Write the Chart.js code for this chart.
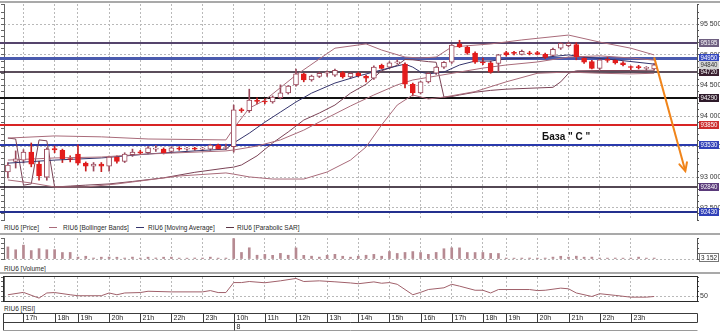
<!DOCTYPE html>
<html>
<head>
<meta charset="utf-8">
<script src="https://cdn.jsdelivr.net/npm/chart.js@4.4.1/dist/chart.umd.min.js"></script>
<style>
  html, body { margin:0; padding:0; background:#fff; }
  body { width:720px; height:332px; position:relative; overflow:hidden; font-family:"Liberation Sans", Arial, sans-serif; }
  .box { position:absolute; left:0; width:720px; }
  .t { position:absolute; font-size:6.5px; line-height:9px; color:#2a2a2a; white-space:nowrap; }
  .sw { position:absolute; height:1px; width:8px; }
  .sep { position:absolute; left:0; width:720px; background:#a9a9a9; }
</style>
</head>
<body>
<div class="sep" style="top:1px;height:2px"></div>
<div class="box" style="top:0;height:222px"><canvas id="cMain"></canvas></div>
<div class="t" style="left:4px;top:223px">RIU6 [Price]</div>
<div class="sw" style="left:49px;top:227px;background:#a96b7a"></div>
<div class="t" style="left:63px;top:223px">RIU6 [Bollinger Bands]</div>
<div class="sw" style="left:136px;top:227px;background:#34346c"></div>
<div class="t" style="left:148px;top:223px">RIU6 [Moving Average]</div>
<div class="sw" style="left:226px;top:227px;background:#5a3444"></div>
<div class="t" style="left:237px;top:223px">RIU6 [Parabolic SAR]</div>
<div class="sep" style="top:233px;height:2px"></div>
<div class="box" style="top:234px;height:30px"><canvas id="cVol"></canvas></div>
<div class="t" style="left:4px;top:264px">RIU6 [Volume]</div>
<div class="sep" style="top:272px;height:2px"></div>
<div class="box" style="top:274px;height:30px"><canvas id="cRsi"></canvas></div>
<div class="t" style="left:4px;top:304px">RIU6 [RSI]</div>
<div class="box" style="top:311px;height:21px"><canvas id="cTime"></canvas></div>
<div class="t" style="left:542px;top:131px;font-size:10px;line-height:12px;font-weight:bold;color:#111">База " C "</div>

<script>
// ---------------- data ----------------
const times = [
  "16:30","16:45","17:00","17:15","17:30","17:45","18:00","18:15","18:30",
  "19:00","19:15","19:30","19:45","20:00","20:15","20:30","20:45",
  "21:00","21:15","21:30","21:45","22:00","22:15","22:30","22:45",
  "23:00","23:15","23:30","23:45",
  "10:00","10:15","10:30","10:45","11:00","11:15","11:30","11:45",
  "12:00","12:15","12:30","12:45","13:00","13:15","13:30","13:45",
  "14:00","14:15","14:30","14:45","15:00","15:15","15:30","15:45",
  "16:00","16:15","16:30","16:45","17:00","17:15","17:30","17:45",
  "18:00","18:15","18:30",
  "19:00","19:15","19:30","19:45","20:00","20:15","20:30","20:45",
  "21:00","21:15","21:30","21:45","22:00","22:15","22:30","22:45",
  "23:00","23:15","23:30","23:45"
];
const dayStart = { time: "10:00", label: "8" };

const opens  = [93085,93260,93280,93410,93215,93000,93470,93440,93300,93380,93230,93180,93215,93180,93330,93260,93370,93415,93400,93460,93460,93420,93470,93460,93470,93460,93460,93525,93470,
                93500,94100,94090,94250,94240,94230,94300,94380,94510,94690,94590,94650,94700,94670,94710,94640,94700,94650,94620,94830,94800,94870,94850,94520,94380,94560,94700,94800,
                94880,95180,95130,95030,94880,94870,94860,95040,95030,95010,95030,95040,95010,94990,95110,95150,95170,94950,94890,94780,94920,94910,94870,94800,94810,94780,94770];
const highs  = [93240,93430,93450,93560,93260,93480,93510,93460,93350,93530,93250,93240,93240,93345,93350,93400,93460,93440,93500,93520,93480,93500,93500,93490,93490,93490,93540,93540,93540,
                94180,94130,94440,94300,94280,94330,94510,94500,94770,94700,94670,94720,94740,94770,94730,94710,94720,94670,94820,94850,94890,94920,94870,94540,94570,94710,94810,94890,
                95170,95240,95150,95050,94950,94900,95010,95060,95060,95080,95060,95060,95030,95110,95200,95210,95200,94970,94910,94930,94960,94930,94890,94820,94830,94810,94860];
const lows   = [92990,93150,93230,93170,92950,92950,93400,93240,93250,93200,93100,93100,93090,93100,93230,93240,93340,93370,93380,93420,93380,93400,93440,93440,93440,93430,93440,93450,93450,
                93410,94060,94060,94200,94200,94210,94280,94360,94490,94560,94570,94630,94650,94650,94620,94620,94640,94560,94600,94770,94780,94850,94460,94330,94360,94540,94680,94780,
                94860,95120,95010,94860,94840,94700,94720,94980,95000,95000,95000,95000,94940,94970,95090,95130,94920,94860,94770,94760,94880,94850,94820,94760,94770,94750,94750];
const closes = [93200,93300,93410,93215,93020,93460,93445,93300,93290,93230,93180,93215,93180,93330,93260,93380,93410,93395,93480,93465,93400,93480,93460,93470,93460,93470,93525,93460,93480,
                94100,94090,94260,94240,94230,94310,94380,94490,94690,94590,94655,94700,94705,94750,94640,94700,94660,94620,94800,94780,94870,94880,94520,94380,94560,94700,94800,94880,
                95160,95130,95030,94880,94870,94720,95000,95000,95025,95060,95020,95010,94960,95090,95190,95190,94970,94880,94780,94920,94910,94870,94840,94795,94790,94780,94840];

const volumes = [40300,30800,46200,28100,34500,30900,31200,21600,21900,6300,
                 9200,3300,6100,6400,5900,3200,6300,3000,6100,3400,
                 6000,6300,3100,2900,3300,3100,6200,3000,3200,68000,
                 21800,37400,12600,15300,12200,18700,12500,37000,12300,9400,
                 6300,12400,15600,9200,6100,9300,12500,15400,9300,24900,
                 18500,21800,24700,21600,15500,21900,34200,37300,37100,21700,
                 21600,21800,18700,18400,3200,2900,3100,3300,3000,3200,
                 6300,9100,6200,9400,6100,6300,3100,3000,3200,2900,
                 3100,6200,3000,3152];

// indicator readings: [candle index, value]
const bbUpper  = [[0,93640],[6,93675],[12,93660],[18,93625],[28,93610],[29,93800],[31,94130],[33,94260],[37,94670],[42,95110],[46,95180],[48,95080],[51,94965],[53,94950],[55,94965],[57,95130],[62,95180],[66,95245],[72,95325],[76,95210],[80,95110],[83,95000]];
const bbMiddle = [[0,93280],[6,93315],[12,93330],[18,93380],[28,93430],[29,93445],[32,93510],[35,93610],[38,93770],[41,93970],[44,94165],[47,94345],[50,94510],[52,94590],[55,94655],[58,94720],[61,94785],[64,94835],[68,94885],[72,94965],[76,94985],[80,94950],[83,94915]];
const bbLower  = [[0,92955],[3,92905],[6,92840],[10,92840],[14,92890],[18,92955],[22,93020],[28,93070],[29,93050],[31,93005],[34,92970],[38,92970],[41,93085],[44,93280],[46,93495],[48,93855],[50,94180],[52,94345],[54,94280],[56,94310],[60,94400],[64,94560],[68,94700],[72,94720],[76,94700],[80,94690],[83,94700]];
const maLine   = [[0,93230],[6,93280],[12,93315],[18,93380],[24,93430],[28,93460],[29,93560],[31,93720],[33,93900],[35,94065],[37,94230],[39,94375],[42,94540],[45,94655],[48,94755],[50,94820],[51,94850],[52,94800],[53,94720],[54,94690],[56,94720],[58,94835],[60,94900],[62,94900],[64,94935],[68,94950],[72,95000],[74,94965],[78,94920],[83,94850]];
const sarLine  = [[0,93640],[1,93625],[2,92870],[3,92890],[4,93610],[5,93595],[6,92840],[8,92855],[10,92870],[13,92890],[16,92930],[20,92990],[24,93080],[28,93150],[29,93165],[30,93200],[32,93350],[34,93560],[36,93740],[38,93935],[40,94050],[42,94180],[44,94375],[46,94520],[48,94740],[50,94830],[51,94925],[52,94920],[53,94905],[54,94890],[55,94880],[56,94310],[57,94320],[58,94345],[60,94390],[62,94420],[64,94440],[68,94460],[70,94470],[71,94560],[72,94700],[73,94740],[76,94745],[80,94745],[83,94750]];
const rsiLine  = [[0,53],[2,58],[4,46],[5,56.7],[6,57.6],[8,53],[9,51],[12,51],[13,56.7],[14,53],[15,56.7],[17,57.6],[18,60.3],[21,59],[25,59],[26,61.7],[27,57.6],[28,57.6],[29,78.4],[30,78.4],[31,80.6],[33,78],[35,82],[37,87],[38,80.6],[40,82],[42,80],[44,77.6],[45,76],[47,79.8],[48,77],[49,78.4],[50,74.8],[52,53],[53,58],[54,63.9],[56,67.5],[57,74.8],[58,71],[60,62.4],[61,62.4],[62,56.7],[63,63.9],[67,63.9],[68,61.7],[69,62.4],[71,66.8],[72,65.4],[73,56.7],[75,49.4],[76,55.2],[78,51.7],[80,48],[82,48],[83,49.4]];

const levels = [95195, 94950, 94720, 94290, 93850, 93530, 92840, 92430];
const arrowPath = [[83, 94960], [87, 93100]];

// ---------------- styles ----------------
const levelColor = ['#55446c','#4a5aae','#241224','#111111','#d82424','#2a3aac','#1a0a1a','#24308e'];
const levelWidth = [2, 3, 1.5, 2, 2, 2, 1.5, 2];
const tagBg      = ['#6e5f80','#3448c0','#3a2030','#2e1a2a','#cc2c2c','#3040b8','#5a3a7a','#3040b8'];
const FONT = '"Liberation Sans", Arial, sans-serif';
const GRID = '#b9b9b9';
const CLEAR = 'rgba(0,0,0,0)';
const BB_COL = '#a96b7a', MA_COL = '#34346c', SAR_COL = '#7b4356';
const UP_EDGE = '#9c4a5c', DOWN_COL = '#e41c1c';

const N = times.length + 5;
const labels = times.concat(new Array(5).fill(''));
const isHour = i => typeof labels[i] === 'string' && labels[i].endsWith(':00');
function series(points){ const a = new Array(N).fill(null); for (const [i,v] of points) a[i] = v; return a; }
const fmt = v => String(v).replace(/\B(?=(\d{3})+(?!\d))/g, ' ');
const isUp = i => closes[i] >= opens[i];

function xAxis(){
  return { offset:true, ticks:{display:false, autoSkip:false},
    grid:{offset:false, drawTicks:false, lineWidth:1, color:c => isHour(c.index) ? GRID : CLEAR, borderDash:[2,2]},
    border:{display:false, dash:[2,2]} };
}
function leftAxis(min, max, step){
  return { position:'left', min, max,
    afterFit(s){ s.width = 4; s.paddingTop = 0; s.paddingBottom = 0; },
    ticks:{stepSize:step, autoSkip:false, callback:() => '', font:{size:7}},
    grid:{drawOnChartArea:false, tickLength:3, tickColor:'#666'},
    border:{display:true, color:'#666'} };
}
function rightAxis(min, max, step, labelFn, gridFn){
  return { position:'right', min, max,
    afterFit(s){ s.width = 23; s.paddingTop = 0; s.paddingBottom = 0; },
    ticks:{stepSize:step, autoSkip:false, padding:1, color:'#333', font:{size:7, family:FONT}, callback:labelFn},
    grid:{color:gridFn, tickLength:2, tickColor:'#555', drawTicks:true, borderDash:[2,2]},
    border:{display:true, color:'#555', dash:[2,2]} };
}
const base = () => ({ responsive:true, maintainAspectRatio:false, animation:false, events:[],
  plugins:{legend:{display:false}, tooltip:{enabled:false}} });

// ---------------- plugins ----------------
const levelPlugin = {
  id:'levelLines',
  beforeDatasetsDraw(chart){
    const {ctx, chartArea:a, scales:{y}} = chart;
    ctx.save();
    levels.forEach((v,k) => {
      let py = Math.round(y.getPixelForValue(v));
      if (levelWidth[k] % 2 === 1) py += 0.5;
      ctx.strokeStyle = levelColor[k]; ctx.lineWidth = levelWidth[k];
      ctx.beginPath(); ctx.moveTo(0, py); ctx.lineTo(a.right, py); ctx.stroke();
    });
    ctx.restore();
  },
  afterDraw(chart){
    const {ctx, chartArea:a, scales:{y}} = chart;
    ctx.save();
    ctx.font = '7px ' + FONT; ctx.textBaseline = 'middle'; ctx.textAlign = 'left';
    const tags = levels.map((v,k) => ({v, bg:tagBg[k], fg:'#ffffff'}));
    tags.push({v: closes[closes.length-1], bg:'#d6d6d6', fg:'#333333'});
    tags.forEach(t => {
      const py = Math.round(y.getPixelForValue(t.v));
      const x0 = a.right + 2;
      ctx.fillStyle = t.bg; ctx.fillRect(x0, py - 4, 20, 8);
      ctx.fillStyle = t.fg; ctx.fillText(String(t.v), x0 + 1.5, py + 0.5, 17);
    });
    ctx.restore();
  }
};
const arrowPlugin = {
  id:'arrowHead',
  afterDatasetsDraw(chart){
    const idx = chart.data.datasets.findIndex(d => d.label === 'arrow');
    if (idx < 0) return;
    const ds = chart.data.datasets[idx];
    const pts = chart.getDatasetMeta(idx).data.filter((p,i) => ds.data[i] !== null);
    if (pts.length < 2) return;
    const p1 = pts[pts.length-2], p2 = pts[pts.length-1];
    const ang = Math.atan2(p2.y - p1.y, p2.x - p1.x);
    const {ctx} = chart, len = 9;
    ctx.save(); ctx.strokeStyle = ds.borderColor; ctx.lineWidth = 2; ctx.lineCap = 'round';
    ctx.beginPath();
    ctx.moveTo(p2.x - len*Math.cos(ang - 0.45), p2.y - len*Math.sin(ang - 0.45));
    ctx.lineTo(p2.x, p2.y);
    ctx.lineTo(p2.x - len*Math.cos(ang + 0.45), p2.y - len*Math.sin(ang + 0.45));
    ctx.stroke(); ctx.restore();
  }
};
const volTag = {
  id:'volTag',
  afterDraw(chart){
    const {ctx, chartArea:a, scales:{y}} = chart;
    const v = volumes[volumes.length-1];
    const py = Math.round(y.getPixelForValue(v));
    ctx.save();
    ctx.fillStyle = '#fff'; ctx.fillRect(a.right + 2, py - 5, 20, 9);
    ctx.strokeStyle = '#777'; ctx.lineWidth = 1; ctx.strokeRect(a.right + 2.5, py - 4.5, 19, 8);
    ctx.fillStyle = '#222'; ctx.font = '7px ' + FONT; ctx.textBaseline = 'middle'; ctx.textAlign = 'left';
    ctx.fillText(fmt(v), a.right + 4, py, 16);
    ctx.restore();
  }
};
const frame = {
  id:'frame',
  afterDraw(chart){
    const {ctx, chartArea:a} = chart;
    ctx.save(); ctx.strokeStyle = '#2a2a2a'; ctx.lineWidth = 1;
    ctx.strokeRect(Math.round(a.left) - 0.5, Math.round(a.top) - 0.5, Math.round(a.right - a.left) + 1, Math.round(a.bottom - a.top) + 1);
    ctx.restore();
  }
};
const timeStrip = {
  id:'timeStrip',
  afterDraw(chart){
    const {ctx, chartArea:a, scales:{x}} = chart;
    const t0 = 2.5, t1 = 11.5, t2 = 19.5;
    const L = Math.round(a.left) - 0.5, R = Math.round(a.right) + 0.5;
    const ln = (x1,y1,x2,y2) => { ctx.beginPath(); ctx.moveTo(x1,y1); ctx.lineTo(x2,y2); ctx.stroke(); };
    ctx.save(); ctx.lineWidth = 1; ctx.strokeStyle = '#3c3c3c';
    ln(L,t0,R,t0); ln(L,t1,R,t1); ln(L,t0,L,t2); ln(R,t0,R,t1);
    ctx.strokeStyle = '#9a9a9a'; ln(L,t2,R,t2);
    ctx.strokeStyle = '#3c3c3c';
    ctx.fillStyle = '#1e1e1e'; ctx.font = '7px ' + FONT; ctx.textBaseline = 'middle'; ctx.textAlign = 'left';
    times.forEach((tm,i) => {
      const px = Math.round(x.getPixelForValue(i)) + 0.5;
      if (tm.endsWith(':00')) { ln(px,t0,px,t1); ctx.fillText(parseInt(tm,10) + 'h', px + 2, (t0+t1)/2 + 0.5); }
      if (tm === dayStart.time) { ln(px,t1,px,t2); ctx.fillText(dayStart.label, px + 2, (t1+t2)/2 + 0.5); }
    });
    ctx.restore();
  }
};

// ---------------- main price chart ----------------
const Y_MIN = 92300, Y_MAX = 95833;
const bodies = opens.map((o,i) => [o, closes[i]]);
const wicks  = lows.map((l,i) => [l, highs[i]]);
const lineDs = (label, pts, color, order) => ({ type:'line', label, data:series(pts), borderColor:color, borderWidth:1,
  pointRadius:0, spanGaps:true, tension:0, yAxisID:'y', order });

const mainOpts = base();
mainOpts.layout = {padding:{left:0, top:4, right:0, bottom:2}};
mainOpts.scales = {
  x: xAxis(),
  yl: leftAxis(Y_MIN, Y_MAX, 100),
  y: rightAxis(Y_MIN, Y_MAX, 100, v => (v % 500 === 0 ? fmt(v) : ''), c => (c.tick && c.tick.value % 500 === 0) ? GRID : CLEAR)
};
new Chart(document.getElementById('cMain'), {
  type:'bar',
  data:{ labels, datasets:[
    { type:'line', label:'arrow', data:series(arrowPath), borderColor:'#f0841a', borderWidth:2, pointRadius:0, spanGaps:true, yAxisID:'y', order:-1 },
    lineDs('bbUpper', bbUpper, BB_COL, 1),
    lineDs('bbMiddle', bbMiddle, BB_COL, 1),
    lineDs('bbLower', bbLower, BB_COL, 1),
    lineDs('ma', maLine, MA_COL, 1),
    lineDs('sar', sarLine, SAR_COL, 1),
    { type:'bar', label:'body', data:bodies, yAxisID:'y', grouped:false, barThickness:5, minBarLength:1, borderWidth:1, borderSkipped:false,
      backgroundColor: bodies.map((b,i) => isUp(i) ? '#ffffff' : DOWN_COL),
      borderColor: bodies.map((b,i) => isUp(i) ? UP_EDGE : DOWN_COL), order:0 },
    { type:'bar', label:'wick', data:wicks, yAxisID:'y', grouped:false, barThickness:1,
      backgroundColor: wicks.map((w,i) => isUp(i) ? UP_EDGE : '#c82020'), order:2 }
  ]},
  options: mainOpts,
  plugins:[levelPlugin, arrowPlugin]
});

// ---------------- volume ----------------
const volOpts = base();
volOpts.layout = {padding:{left:0, top:4, right:0, bottom:5}};
volOpts.scales = {
  x: xAxis(),
  yl: leftAxis(0, 70000, 17500),
  y: rightAxis(0, 70000, 17500, () => '', c => (c.tick && c.tick.value === 0) ? GRID : CLEAR)
};
new Chart(document.getElementById('cVol'), {
  type:'bar',
  data:{ labels, datasets:[{ label:'volume', data:volumes, backgroundColor:'#b68a92', barThickness:2, yAxisID:'y' }] },
  options: volOpts,
  plugins:[volTag]
});

// ---------------- RSI ----------------
const rsiOpts = base();
rsiOpts.layout = {padding:{left:0, top:3, right:0, bottom:3}};
rsiOpts.scales = {
  x: xAxis(),
  yl: leftAxis(40, 90, 10),
  y: rightAxis(40, 90, 10, v => (v === 50 ? '50' : ''), c => (c.tick && c.tick.value === 50) ? GRID : CLEAR)
};
new Chart(document.getElementById('cRsi'), {
  type:'bar',
  data:{ labels, datasets:[{ type:'line', label:'rsi', data:series(rsiLine), borderColor:'#a0606a', borderWidth:1, pointRadius:0, spanGaps:true, yAxisID:'y' }] },
  options: rsiOpts,
  plugins:[frame]
});

// ---------------- time strip ----------------
const timeOpts = base();
timeOpts.layout = {padding:{left:4, top:0, right:23, bottom:0}};
timeOpts.scales = { x:{display:false, offset:true}, y:{display:false} };
new Chart(document.getElementById('cTime'), {
  type:'bar',
  data:{ labels, datasets:[] },
  options: timeOpts,
  plugins:[timeStrip]
});
</script>
</body>
</html>
